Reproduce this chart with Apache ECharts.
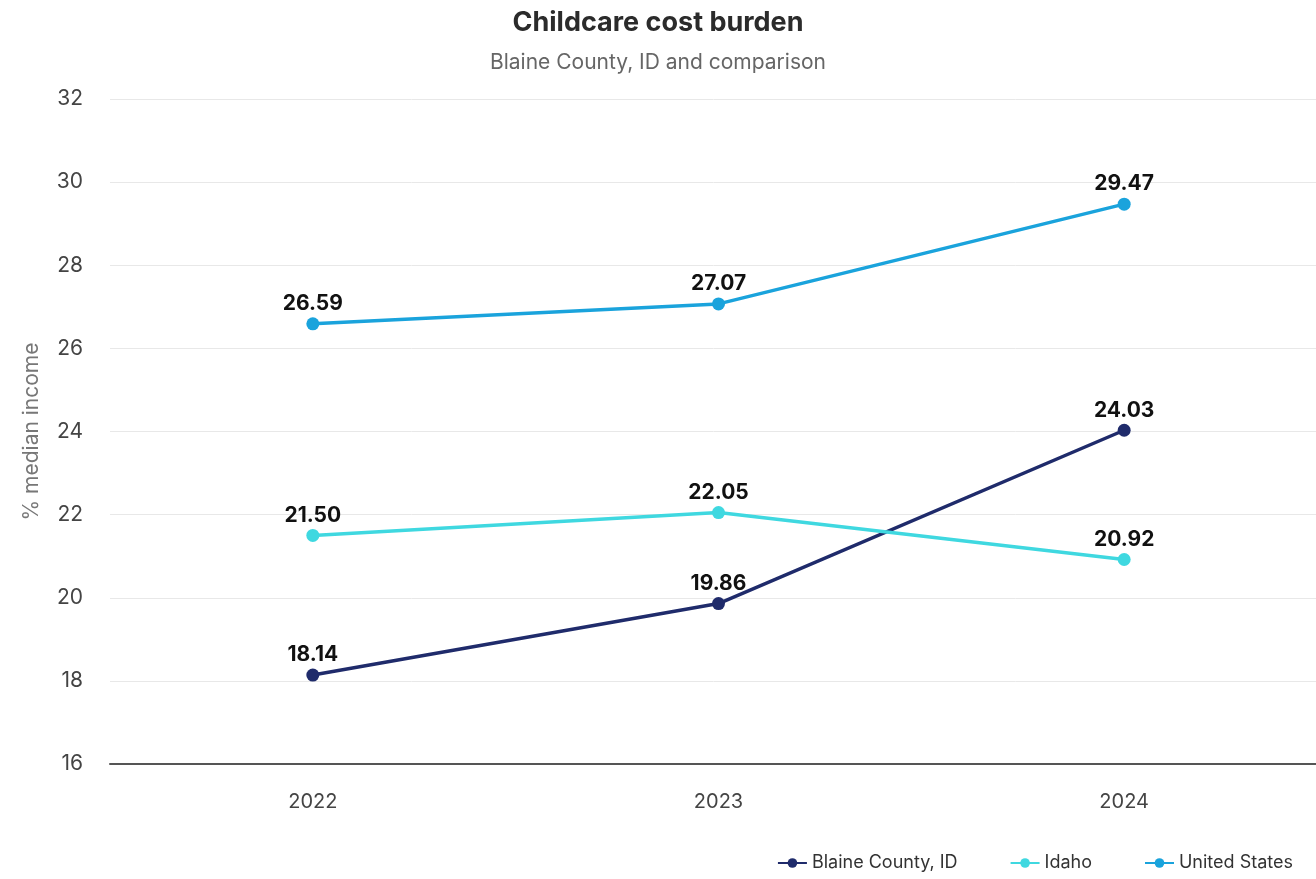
<!DOCTYPE html>
<html>
<head>
<meta charset="utf-8">
<script src="https://cdn.jsdelivr.net/npm/echarts@6/dist/echarts.min.js"></script>
<style>
  html, body { margin: 0; padding: 0; background: #fff; }
  #chart { width: 1316px; height: 879px; }
</style>
</head>
<body>
<div id="chart"></div>
<script>
// Childcare cost as a share of median income
const years = ['2022', '2023', '2024'];
const blaineCounty = [18.14, 19.86, 24.03];
const idaho = [21.50, 22.05, 20.92];
const unitedStates = [26.59, 27.07, 29.47];
const yTicks = [16, 18, 20, 22, 24, 26, 28, 30, 32];

const FONT = 'Inter, "Noto Sans", sans-serif';

function lineSeries(name, data, color) {
  return {
    name: name,
    type: 'line',
    data: data,
    symbol: 'circle',
    symbolSize: 13,
    lineStyle: { width: 3.5, color: color },
    itemStyle: { color: color },
    label: {
      show: true,
      position: 'top',
      distance: 3,
      formatter: p => p.value.toFixed(2),
      fontFamily: FONT,
      fontSize: 21,
      fontWeight: 'bold',
      color: '#111'
    }
  };
}

const chart = echarts.init(document.getElementById('chart'));
chart.setOption({
  animation: false,
  textStyle: { fontFamily: FONT },
  title: {
    text: 'Childcare cost burden',
    subtext: 'Blaine County, ID and comparison',
    left: 'center',
    top: 4,
    itemGap: 16,
    textStyle: { fontFamily: FONT, fontSize: 27, fontWeight: 'bold', color: '#2b2b2b' },
    subtextStyle: { fontFamily: FONT, fontSize: 21, color: '#666' }
  },
  legend: {
    bottom: 2,
    right: 18,
    itemGap: 52,
    itemWidth: 29,
    itemHeight: 12,
    textStyle: { fontFamily: FONT, fontSize: 18, color: '#333' },
    data: ['Blaine County, ID', 'Idaho', 'United States']
  },
  grid: { left: 110, width: 1217, top: 99, bottom: 115, containLabel: false, outerBoundsMode: 'none' },
  xAxis: {
    type: 'category',
    data: years,
    boundaryGap: true,
    axisLine: { show: true, lineStyle: { color: '#555', width: 2 } },
    axisTick: { show: false },
    axisLabel: { fontFamily: FONT, fontSize: 20, color: '#444', margin: 28 }
  },
  yAxis: {
    type: 'value',
    min: yTicks[0],
    max: yTicks[yTicks.length - 1],
    interval: 2,
    name: '% median income',
    nameLocation: 'middle',
    nameGap: 68,
    nameTextStyle: { fontFamily: FONT, fontSize: 21, color: '#777' },
    axisLine: { show: false },
    axisTick: { show: false },
    axisLabel: { fontFamily: FONT, fontSize: 21, color: '#444', margin: 27 },
    splitLine: { lineStyle: { color: '#e8e8e8', width: 1 } }
  },
  series: [
    lineSeries('Blaine County, ID', blaineCounty, '#1f2b6b'),
    lineSeries('Idaho', idaho, '#3fd8e0'),
    lineSeries('United States', unitedStates, '#1aa3dc')
  ]
});
</script>
</body>
</html>
